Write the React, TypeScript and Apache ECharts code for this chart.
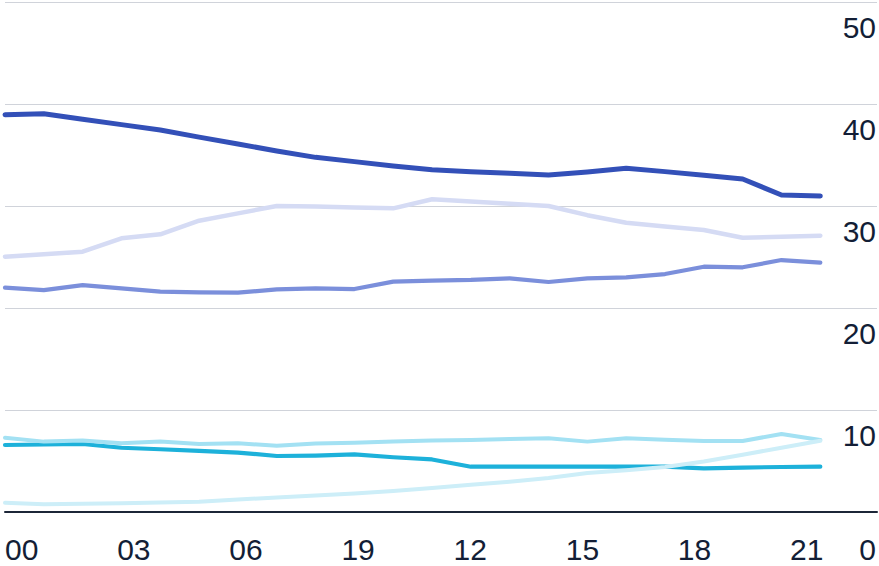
import React, { useEffect, useRef } from "react";
import * as echarts from "echarts";

const years = [
  2000, 2001, 2002, 2003, 2004, 2005, 2006, 2007, 2008, 2009, 2010,
  2011, 2012, 2013, 2014, 2015, 2016, 2017, 2018, 2019, 2020, 2021,
];
const tickLabels = ["00", "03", "06", "19", "12", "15", "18", "21"];

const darkBlue = [38.95, 39.05, 38.5, 37.98, 37.45, 36.75, 36.08, 35.39, 34.77, 34.35, 33.92, 33.56, 33.36, 33.2, 33.04, 33.34, 33.7, 33.37, 33.02, 32.65, 31.08, 30.98];
const lavender = [25.03, 25.26, 25.52, 26.83, 27.23, 28.56, 29.28, 30.0, 29.94, 29.86, 29.77, 30.66, 30.43, 30.23, 30.0, 29.1, 28.36, 28.0, 27.65, 26.89, 26.99, 27.09];
const midBlue = [21.99, 21.76, 22.25, 21.93, 21.6, 21.54, 21.5, 21.83, 21.93, 21.86, 22.58, 22.68, 22.75, 22.91, 22.55, 22.91, 23.0, 23.33, 24.05, 23.99, 24.7, 24.44];
const cyan = [6.57, 6.62, 6.67, 6.3, 6.15, 6.0, 5.83, 5.49, 5.53, 5.65, 5.37, 5.15, 4.44, 4.44, 4.44, 4.44, 4.44, 4.44, 4.28, 4.36, 4.41, 4.44];
const lightCyan = [7.28, 6.9, 7.0, 6.73, 6.9, 6.67, 6.73, 6.5, 6.72, 6.8, 6.9, 7.0, 7.07, 7.15, 7.22, 6.9, 7.22, 7.08, 6.96, 6.96, 7.65, 7.06];
const paleCyan = [0.91, 0.75, 0.8, 0.85, 0.93, 1.0, 1.23, 1.42, 1.62, 1.81, 2.06, 2.35, 2.66, 2.97, 3.33, 3.82, 4.1, 4.41, 4.95, 5.62, 6.3, 6.99];

const FONT = "'Liberation Sans', Arial, sans-serif";
const TEXT = "#131e36";

function mk(arr: number[], color: string, width: number) {
  return {
    type: "line",
    xAxisIndex: 0,
    yAxisIndex: 0,
    symbol: "none",
    showSymbol: false,
    data: years.map((y, i) => [y, arr[i]]),
    lineStyle: { color, width, cap: "round", join: "round" },
  };
}

export default function App() {
  const ref = useRef<HTMLDivElement>(null);
  useEffect(() => {
    document.body.style.margin = "0";
    const chart = echarts.init(ref.current!, null, { renderer: "svg" });
    chart.setOption({
      animation: false,
      grid: { left: 5, right: 0, top: 2, bottom: 54, containLabel: false },
      xAxis: [
        {
          type: "value",
          position: "bottom",
          min: 2000,
          max: 2022.46,
          axisLine: { show: true, onZero: false, lineStyle: { color: "#1c2638", width: 2 } },
          axisTick: { show: false },
          axisLabel: { show: false },
          splitLine: { show: false },
        },
        {
          type: "value",
          position: "bottom",
          min: 0,
          max: 7.776,
          interval: 1,
          axisLine: { show: false },
          axisTick: { show: false },
          splitLine: { show: false },
          axisLabel: {
            show: true,
            showMaxLabel: false,
            align: "left",
            margin: 22,
            fontSize: 30,
            lineHeight: 30,
            fontFamily: FONT,
            color: TEXT,
            formatter: (v: number) => (Number.isInteger(v) && tickLabels[v] !== undefined ? tickLabels[v] : ""),
          },
        },
      ],
      yAxis: {
        type: "value",
        position: "right",
        min: 0,
        max: 50,
        interval: 10,
        axisLine: { show: false },
        axisTick: { show: false },
        splitLine: { show: true, lineStyle: { color: "#d0d3da", width: 1 } },
        axisLabel: {
          inside: true,
          margin: 1,
          verticalAlign: "top",
          align: "right",
          fontFamily: FONT,
          fontSize: 30,
          color: TEXT,
          formatter: (v: number) => (v === 0 ? "{z|0}" : "{n|" + v + "}"),
          rich: {
            n: { fontSize: 30, lineHeight: 51, fontFamily: FONT, color: TEXT },
            z: { fontSize: 30, lineHeight: 74, fontFamily: FONT, color: TEXT },
          },
        },
      },
      series: [
        mk(lavender, "#d5dbf4", 4.5),
        mk(midBlue, "#7b8fdb", 4.2),
        mk(darkBlue, "#3350b8", 5),
        mk(cyan, "#1db1da", 4.2),
        mk(lightCyan, "#a3e1f3", 4),
        mk(paleCyan, "#cdeef8", 4),
      ],
    });
    return () => chart.dispose();
  }, []);
  return <div ref={ref} style={{ width: 879, height: 566 }} />;
}
